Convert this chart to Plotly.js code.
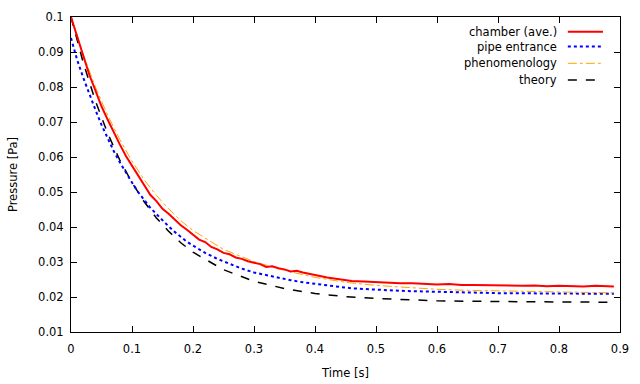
<!DOCTYPE html>
<html>
<head>
<meta charset="utf-8">
<script src="https://cdn.plot.ly/plotly-3.0.1.min.js"></script>
<style>html,body{margin:0;padding:0;background:#fff;}#chart{width:640px;height:384px;}</style>
</head>
<body>
<div id="chart"></div>
<script>
// chamber (ave.)
var chamberT = [0,0.01,0.02,0.03,0.04,0.05,0.06,0.07,0.08,0.09,0.10,0.11,0.12,0.13,0.14,0.15,0.16,0.17,0.18,0.19,0.20,0.21,0.22,0.23,0.24,0.25,0.26,0.27,0.28,0.29,0.30,0.31,0.32,0.33,0.34,0.35,0.36,0.37,0.38,0.39,0.40,0.42,0.44,0.46,0.48,0.50,0.52,0.54,0.56,0.58,0.60,0.62,0.64,0.66,0.68,0.70,0.72,0.74,0.76,0.78,0.80,0.82,0.84,0.86,0.88,0.89];
var chamberP = [0.1000,0.0945,0.0888,0.0835,0.0790,0.0745,0.0707,0.0670,0.0636,0.0603,0.0576,0.0546,0.0520,0.0492,0.0474,0.0452,0.0438,0.0420,0.0405,0.0392,0.0378,0.0364,0.0357,0.0343,0.0336,0.0326,0.0322,0.0313,0.0309,0.0302,0.0298,0.0294,0.0286,0.0288,0.0282,0.0279,0.0273,0.0275,0.0270,0.0266,0.0262,0.0256,0.0251,0.0246,0.0244,0.0242,0.0240,0.0239,0.0239,0.0237,0.0236,0.0237,0.0234,0.0234,0.0233,0.0234,0.0232,0.0232,0.0233,0.0231,0.0232,0.0231,0.0230,0.0232,0.0230,0.0230];
// pipe entrance
var pipeT = [0,0.01,0.02,0.03,0.04,0.05,0.06,0.07,0.08,0.09,0.10,0.11,0.12,0.13,0.14,0.15,0.16,0.17,0.18,0.19,0.20,0.22,0.24,0.26,0.28,0.30,0.32,0.34,0.36,0.38,0.40,0.42,0.44,0.46,0.48,0.50,0.55,0.60,0.65,0.70,0.75,0.80,0.85,0.89];
var pipeP = [0.0940,0.0878,0.0827,0.0779,0.0735,0.0692,0.0654,0.0617,0.0585,0.0554,0.0527,0.0500,0.0478,0.0455,0.0437,0.0418,0.0402,0.0386,0.0372,0.0358,0.0347,0.0326,0.0309,0.0294,0.0281,0.0270,0.0262,0.0254,0.0248,0.0242,0.0237,0.0233,0.0229,0.0225,0.0224,0.0221,0.0217,0.0214,0.0213,0.0211,0.0211,0.0210,0.0210,0.0209];
// phenomenology
var phenoT = [0,0.02,0.04,0.06,0.08,0.10,0.12,0.14,0.16,0.18,0.20,0.25,0.30,0.35,0.40,0.45,0.50,0.55,0.60,0.65,0.70,0.75,0.80,0.85,0.89];
var phenoP = [0.1000,0.0893,0.0800,0.0720,0.0650,0.0588,0.0535,0.0490,0.0452,0.0418,0.0390,0.0336,0.0301,0.0276,0.0256,0.0242,0.0233,0.0227,0.0222,0.0219,0.0217,0.0215,0.0214,0.0213,0.0212];
// theory
var theoryT = [0,0.02,0.04,0.06,0.08,0.10,0.12,0.14,0.16,0.18,0.20,0.25,0.30,0.35,0.40,0.45,0.50,0.55,0.60,0.70,0.80,0.89];
var theoryP = [0.1000,0.0870,0.0760,0.0668,0.0591,0.0527,0.0472,0.0426,0.0388,0.0355,0.0328,0.0278,0.0245,0.0224,0.0210,0.0201,0.0196,0.0192,0.0189,0.0187,0.0186,0.0185];

var xTickVals = [0,0.1,0.2,0.3,0.4,0.5,0.6,0.7,0.8,0.9];
var xTickText = ["0","0.1","0.2","0.3","0.4","0.5","0.6","0.7","0.8","0.9"];
var yTickVals = [0.01,0.02,0.03,0.04,0.05,0.06,0.07,0.08,0.09,0.1];
var yTickText = ["0.01","0.02","0.03","0.04","0.05","0.06","0.07","0.08","0.09","0.1"];

var seriesNames = ["chamber (ave.)","pipe entrance","phenomenology","theory"];
var seriesColors = ["#ff0000","#0000ff","#ffa500","#000000"];
var seriesDash = ["solid","dot","dashdot","dash"];
var seriesWidth = [2,2,1,1.5];

var traces = [
  {x: chamberT, y: chamberP},
  {x: pipeT, y: pipeP},
  {x: phenoT, y: phenoP},
  {x: theoryT, y: theoryP}
].map(function(d,i){
  return {x:d.x, y:d.y, type:'scatter', mode:'lines', name:seriesNames[i], showlegend:false,
    line:{color:seriesColors[i], dash:seriesDash[i], width:seriesWidth[i]}};
});
traces = [traces[3], traces[1], traces[2], traces[0]];

var font = {family:'"DejaVu Sans", Verdana, sans-serif', size:11.5, color:'#000'};
var legY = [0.953,0.906,0.853,0.800];
var annotations = seriesNames.map(function(n,i){
  return {text:n, xref:'paper', yref:'paper', x:0.889, y:legY[i], xanchor:'right', yanchor:'middle', showarrow:false, font:font};
});
var shapes = seriesNames.map(function(n,i){
  return {type:'line', xref:'paper', yref:'paper', x0:0.905, x1:0.969, y0:legY[i], y1:legY[i],
    line:{color:seriesColors[i], dash:seriesDash[i], width:seriesWidth[i]}};
});

var layout = {
  width:640, height:384,
  margin:{l:71, r:20, t:17, b:52},
  paper_bgcolor:'#fff', plot_bgcolor:'#fff',
  font:font,
  showlegend:false,
  xaxis:{range:[0,0.9], tickvals:xTickVals, ticktext:xTickText, ticks:'inside', ticklen:6, tickcolor:'#000',
    ticklabelstandoff:6,
    showline:true, linecolor:'#000', linewidth:1, mirror:'ticks', showgrid:false, zeroline:false,
    title:{text:'Time [s]', font:font, standoff:14}},
  yaxis:{range:[0.01,0.1], tickvals:yTickVals, ticktext:yTickText, ticks:'inside', ticklen:6, tickcolor:'#000',
    ticklabelstandoff:4,
    showline:true, linecolor:'#000', linewidth:1, mirror:'ticks', showgrid:false, zeroline:false,
    title:{text:'Pressure [Pa]', font:font, standoff:18}},
  annotations:annotations,
  shapes:shapes
};
Plotly.newPlot('chart', traces, layout, {staticPlot:true, displayModeBar:false});
</script>
</body>
</html>
